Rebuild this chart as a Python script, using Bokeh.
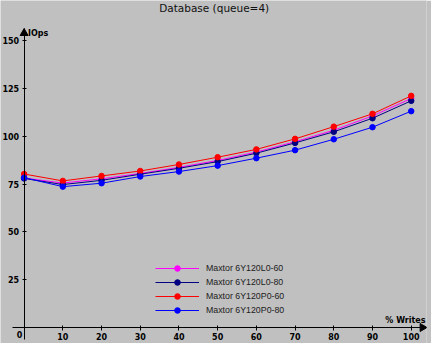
import math
from bokeh.plotting import figure
from bokeh.models import Range1d, FixedTicker, LinearAxis, Legend, LegendItem, ColumnDataSource, Label
from bokeh.core.properties import value
from bokeh.embed import file_html
from bokeh.resources import INLINE

# ---- data ----
writes_pct = [0, 10, 20, 30, 40, 50, 60, 70, 80, 90, 100]
series_names = ["Maxtor 6Y120L0-60", "Maxtor 6Y120L0-80", "Maxtor 6Y120P0-60", "Maxtor 6Y120P0-80"]
l0_60 = [78.2, 75.6, 77.8, 80.6, 83.8, 87.4, 91.8, 97.2, 103.2, 110.7, 119.8]
l0_80 = [78.0, 74.8, 77.0, 80.2, 83.3, 86.8, 91.2, 96.6, 102.4, 109.5, 118.6]
p0_60 = [80.3, 76.7, 79.3, 81.9, 85.3, 89.1, 93.2, 98.7, 105.1, 111.8, 121.2]
p0_80 = [78.4, 73.7, 75.5, 79.0, 81.6, 84.7, 88.6, 92.8, 98.5, 104.8, 113.2]
series_values = [l0_60, l0_80, p0_60, p0_80]
series_colors = ["#ff00ff", "#000080", "#ff0000", "#0000ff"]
x_ticks = [10, 20, 30, 40, 50, 60, 70, 80, 90, 100]
y_ticks = [25, 50, 75, 100, 125, 150]
title_text = "Database (queue=4)"
y_title = "IOps"
x_title = "% Writes"

BG = "#c0c0c0"
TICK_FONT = "DejaVu Sans"

p = figure(width=431, height=343,
           x_range=Range1d(-6.1, 103.95), y_range=Range1d(-8.37, 171.1),
           x_axis_type=None, y_axis_type=None,
           output_backend="svg", toolbar_location=None,
           min_border_left=0, min_border_right=5,
           min_border_top=0, min_border_bottom=0)
p.grid.visible = False
p.outline_line_color = None
p.background_fill_color = BG
p.border_fill_color = BG

# chart title
title_label = Label(x=49.1, y=167.0, text=title_text, text_align="center",
                    text_baseline="middle", text_font="DejaVu Sans",
                    text_font_size="10.5px", text_color="#101010")
p.add_layout(title_label)

def style_axis(ax, tin, tout, standoff):
    ax.axis_line_color = "black"
    ax.axis_line_width = 1
    ax.major_tick_line_color = "black"
    ax.major_tick_in = tin
    ax.major_tick_out = tout
    ax.minor_tick_line_color = None
    ax.major_label_text_font = TICK_FONT
    ax.major_label_text_font_size = "8px"
    ax.major_label_text_font_style = "bold"
    ax.major_label_text_color = "black"
    ax.major_label_standoff = standoff

yax = LinearAxis(fixed_location=0, ticker=FixedTicker(ticks=y_ticks), bounds=(-6.3, 156.5))
style_axis(yax, 2, 2, 3)
p.add_layout(yax, "left")
xax = LinearAxis(fixed_location=0, ticker=FixedTicker(ticks=x_ticks), bounds=(-3.0, 103.95))
style_axis(xax, 2, 3, 2)
p.add_layout(xax, "below")

# axis arrow heads
p.scatter(x=[0], y=[154.0], marker="triangle", size=8, color="black")
p.scatter(x=[102.9], y=[0], marker="triangle", size=8, color="black", angle=-math.pi / 2)

# axis titles and origin label
p.text(x=[1.0], y=[153.8], text=[y_title], text_font=value(TICK_FONT), text_font_size="8px",
       text_font_style="bold", text_baseline="middle", text_align="left", text_color="black")
p.text(x=[103.7], y=[3.7], text=[x_title], text_font=value(TICK_FONT), text_font_size="8px",
       text_font_style="bold", text_baseline="middle", text_align="right", text_color="black")
p.text(x=[-1.2], y=[-3.5], text=["0"], text_font=value(TICK_FONT), text_font_size="8px",
       text_font_style="bold", text_baseline="middle", text_align="center", text_color="black")

items = []
for name, vals, col in zip(series_names, series_values, series_colors):
    src = ColumnDataSource(dict(x=writes_pct, y=vals))
    ln = p.line("x", "y", source=src, color=col, line_width=1)
    sc = p.scatter("x", "y", source=src, color=col, size=5.5)
    items.append(LegendItem(label=name, renderers=[ln, sc]))

legend = Legend(items=items, location=(155, 26), glyph_width=44, glyph_height=14,
                label_height=14, spacing=0, padding=0, margin=0,
                border_line_alpha=0, background_fill_alpha=0, label_standoff=7,
                label_text_font="Liberation Sans", label_text_font_size="8.8px",
                label_text_color="#202020")
p.add_layout(legend)

open("out.html", "w").write(file_html(p, INLINE))
